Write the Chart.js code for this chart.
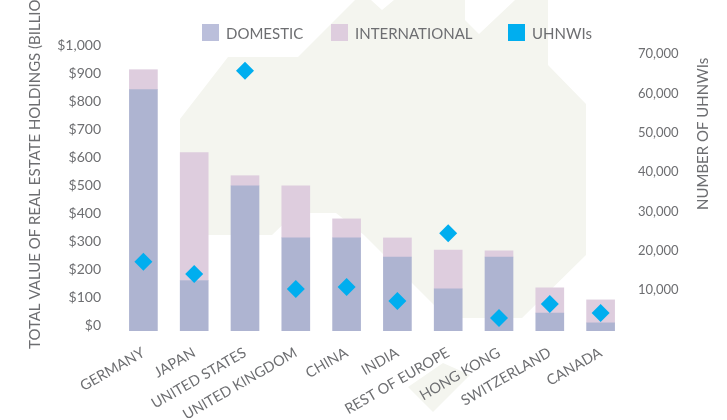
<!DOCTYPE html>
<html>
<head>
<meta charset="utf-8">
<title>UHNWI real estate holdings</title>
<script src="https://cdn.jsdelivr.net/npm/chart.js@4"></script>
<style>
  html, body { margin: 0; padding: 0; background: #fff; overflow: hidden; }
  #wrap { position: relative; width: 727px; height: 420px; }
  #legend { position: absolute; left: 202px; top: 24px; display: flex; font: 15px Lato, sans-serif; color: #6d6e71; }
  #legend div { display: flex; align-items: center; height: 17px; }
  #legend i { display: block; flex: none; width: 17px; height: 17px; margin-right: 7px; }
</style>
</head>
<body>
<div id="wrap">
  <canvas id="chart" width="727" height="420"></canvas>
  <div id="legend"></div>
</div>
<script>
const categories = ['GERMANY', 'JAPAN', 'UNITED STATES', 'UNITED KINGDOM', 'CHINA', 'INDIA', 'REST OF EUROPE', 'HONG KONG', 'SWITZERLAND', 'CANADA'];
const domestic = [843, 162, 500, 314, 314, 246, 132, 246, 46, 11];
const international = [71, 456, 36, 186, 68, 68, 139, 22, 90, 82];
const uhnwis = [17200, 14100, 65800, 10300, 10800, 7250, 24500, 2900, 6500, 4200];
const valueTicks = [0, 100, 200, 300, 400, 500, 600, 700, 800, 900, 1000];
const countTicks = [10000, 20000, 30000, 40000, 50000, 60000, 70000];

const textColor = '#6d6e71';

// the bars start a little under the $0 tick in the original
const barFloor = -18;

// pale map shape behind the chart
const mapShapes = [
  [[180, 119], [228, 57], [298, 57], [355, 0], [371, 0], [382, 10], [394, 0], [465, 0], [465, 20], [479, 34], [515, 0], [548, 0],
   [548, 65], [586, 104], [586, 255], [522, 318], [447, 318], [364, 235], [336, 213], [295, 213], [272, 235], [180, 235]],
  [[408, 387], [443, 363], [470, 375], [433, 412]]
];

function drawTitle(ctx, text, x, y, size) {
  ctx.save();
  ctx.fillStyle = textColor;
  ctx.font = size + 'px Lato, sans-serif';
  ctx.textBaseline = 'middle';
  ctx.textAlign = 'left';
  ctx.translate(x, y);
  ctx.rotate(-Math.PI / 2);
  ctx.fillText(text, 0, 0);
  ctx.restore();
}

const backdrop = {
  id: 'backdrop',
  beforeDraw(chart) {
    const ctx = chart.ctx;
    ctx.save();
    ctx.fillStyle = '#f4f5ef';
    mapShapes.forEach(function(shape) {
      ctx.beginPath();
      shape.forEach(function(p, i) {
        if (i === 0) ctx.moveTo(p[0], p[1]); else ctx.lineTo(p[0], p[1]);
      });
      ctx.closePath();
      ctx.fill();
    });
    ctx.restore();
  },
  // axis titles sit off centre, so they are drawn here
  afterDraw(chart) {
    drawTitle(chart.ctx, 'TOTAL VALUE OF REAL ESTATE HOLDINGS (BILLIONS)', 35, 349, 15);
    drawTitle(chart.ctx, 'NUMBER OF UHNWIs', 703, 210, 15);
  }
};

const chart = new Chart(document.getElementById('chart').getContext('2d'), {
  type: 'bar',
  data: {
    labels: categories,
    datasets: [
      {
        label: 'UHNWIs',
        type: 'line',
        data: uhnwis,
        yAxisID: 'y2',
        showLine: false,
        order: 0,
        pointStyle: 'rectRot',
        pointRadius: 9,
        pointBorderWidth: 0,
        backgroundColor: '#00aeef'
      },
      {
        label: 'DOMESTIC',
        data: domestic.map(function(v) { return [barFloor, v]; }),
        yAxisID: 'y',
        grouped: false,
        order: 1,
        backgroundColor: '#aeb4d1'
      },
      {
        label: 'INTERNATIONAL',
        data: international.map(function(v, i) { return [domestic[i], domestic[i] + v]; }),
        yAxisID: 'y',
        grouped: false,
        order: 2,
        backgroundColor: '#decdde'
      }
    ]
  },
  options: {
    responsive: false,
    animation: false,
    devicePixelRatio: 1,
    layout: { padding: { top: 40 } },
    datasets: { bar: { barThickness: 28 } },
    plugins: { legend: { display: false }, tooltip: { enabled: false } },
    scales: {
      x: {
        grid: { display: false },
        border: { display: false },
        afterFit: function(scale) { scale.height = 89; },
        ticks: {
          color: textColor,
          font: { family: 'Lato, sans-serif', size: 14.5 },
          autoSkip: false,
          minRotation: 30,
          maxRotation: 30,
          padding: 5
        }
      },
      y: {
        position: 'left',
        min: barFloor,
        max: 1020,
        grid: { display: false },
        border: { display: false },
        afterFit: function(scale) { scale.width = 118; },
        afterBuildTicks: function(scale) { scale.ticks = valueTicks.map(function(v) { return { value: v }; }); },
        ticks: {
          color: textColor,
          font: { family: 'Lato, sans-serif', size: 14 },
          padding: 9,
          callback: function(v) { return '$' + v.toLocaleString('en-US'); }
        }
      },
      y2: {
        position: 'right',
        min: -382,
        max: 73600,
        grid: { display: false },
        border: { display: false },
        afterFit: function(scale) { scale.width = 101; },
        afterBuildTicks: function(scale) { scale.ticks = countTicks.map(function(v) { return { value: v }; }); },
        ticks: {
          color: textColor,
          font: { family: 'Lato, sans-serif', size: 13 },
          padding: 4,
          callback: function(v) { return v.toLocaleString('en-US'); }
        }
      }
    }
  },
  plugins: [backdrop]
});

// legend order and spacing differ from the built-in one
const legendItems = [[1, 129, '#bbbfdb'], [2, 177, '#decdde'], [0, 90, '#00aeef']];
legendItems.forEach(function(item) {
  const el = document.createElement('div');
  el.style.width = item[1] + 'px';
  const box = document.createElement('i');
  box.style.background = item[2];
  el.appendChild(box);
  el.appendChild(document.createTextNode(chart.data.datasets[item[0]].label));
  document.getElementById('legend').appendChild(el);
});
</script>
</body>
</html>
